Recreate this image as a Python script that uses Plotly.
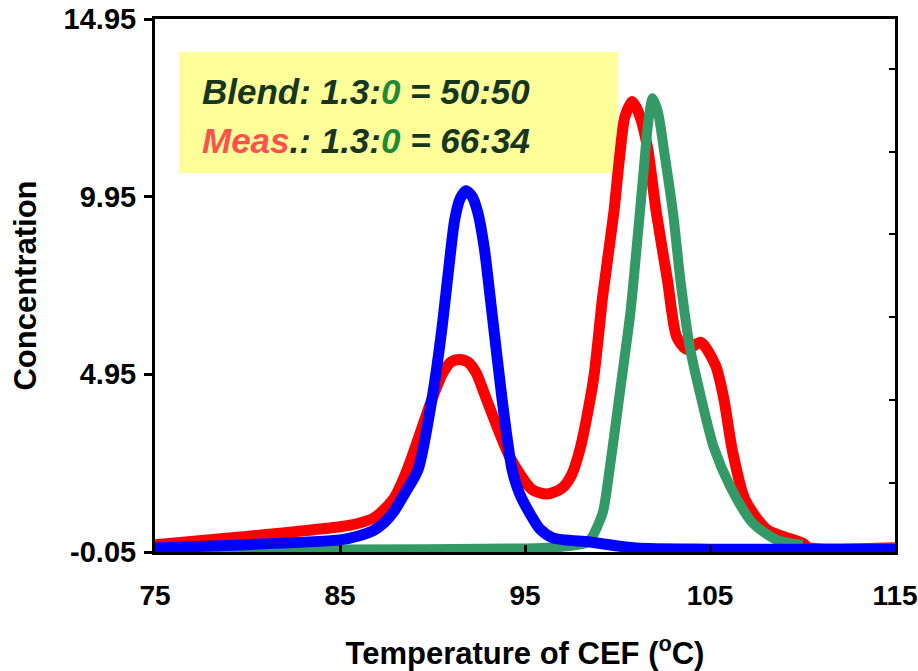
import plotly.graph_objects as go

# ---- data ----
blend_lo_T = [75, 79.6, 85, 86.0, 86.8, 87.4, 87.9, 88.5, 89.22, 89.97, 90.5, 90.85, 91.2, 91.5, 91.81, 92.15, 92.45, 92.8, 93.1, 93.76,
              94.3, 94.7, 95.3, 95.8, 96.5, 98.5, 101, 105, 115]
blend_lo_C = [0.06, 0.15, 0.29, 0.4, 0.55, 0.78, 1.08, 1.6, 2.27, 4.25, 6.2, 7.8, 9.3, 9.9, 10.12, 9.95, 9.5, 8.5, 7.2, 4.25,
              2.27, 1.6, 1.0, 0.6, 0.35, 0.23, 0.06, 0.03, 0.02]

meas_T = [75, 79.6, 85, 86.0, 86.8, 87.3, 87.9, 88.3, 88.8, 89.97, 90.57, 91.0, 91.45, 91.9, 92.35, 92.95, 94.2, 95.4, 96.2, 97.0, 97.5,
          98.0, 98.7, 99.2, 99.8, 100.1, 100.4, 100.8, 101.15, 101.6, 102.1, 102.7, 103.2, 103.75, 104.5,
          105.3, 105.75, 106.2, 106.9, 108.1, 110.0, 110.3, 115]
meas_C = [0.15, 0.37, 0.66, 0.76, 0.9, 1.1, 1.45, 1.85, 2.5, 4.25, 5.0, 5.3, 5.37, 5.3, 5.0, 4.2, 2.6, 1.7, 1.58, 1.75, 2.1,
          2.9, 4.8, 7.15, 9.5, 11.0, 12.2, 12.63, 12.3, 11.4, 9.5, 7.6, 6.0, 5.65, 5.85,
          5.2, 4.25, 2.83, 1.42, 0.57, 0.2, 0.08, 0.07]

blend_hi_T = [75, 85, 95, 97, 98.3, 98.6, 99.2, 99.5, 100.1, 100.7, 101.05, 101.4, 101.65, 101.9, 102.2, 102.5, 103.0,
              103.4, 103.9, 104.5, 105.2, 106.1, 107.3, 108.6, 110]
blend_hi_C = [0.0, 0.02, 0.05, 0.1, 0.2, 0.35, 1.05, 2.0, 4.33, 6.7, 8.6, 10.6, 12.0, 12.72, 12.3, 11.3, 9.5,
              7.6, 5.74, 4.33, 2.9, 1.79, 0.77, 0.29, 0.15]

x_ticks = [75, 85, 95, 105, 115]
y_ticks = [-0.05, 4.95, 9.95, 14.95]
y_labels = ["-0.05", "4.95", "9.95", "14.95"]
y2_ticks = [1.9, 4.23, 6.56, 8.89, 11.22, 13.55]

RED = "#FF0000"
BLUE = "#0000FF"
GREEN = "#339966"
TXT = "#17361F"
ZERO = "#1E8A3A"

FONT = "Liberation Sans, Arial, sans-serif"

fig = go.Figure()
fig.add_trace(go.Scatter(x=meas_T, y=meas_C, mode="lines", line=dict(color=RED, width=11, shape="spline", smoothing=0.7),
                         showlegend=False))
fig.add_trace(go.Scatter(x=blend_hi_T, y=blend_hi_C, mode="lines", line=dict(color=GREEN, width=10, shape="spline", smoothing=0.7),
                         showlegend=False))
fig.add_trace(go.Scatter(x=blend_lo_T, y=blend_lo_C, mode="lines", line=dict(color=BLUE, width=11, shape="spline", smoothing=0.7),
                         showlegend=False))
fig.add_trace(go.Scatter(x=[], y=[], yaxis="y2", showlegend=False))

fig.add_shape(type="rect", xref="paper", yref="paper", x0=0.0325, x1=0.626, y0=0.711, y1=0.938,
              fillcolor="#FFFF99", line=dict(width=0), layer="below")

fig.add_annotation(xref="paper", yref="paper", x=0.061, y=0.864, xanchor="left", yanchor="middle", showarrow=False,
                   text=f"<b><i>Blend: 1.3:<span style='color:{ZERO}'>0</span> = 50:50</i></b>",
                   font=dict(family=FONT, size=35, color=TXT))
fig.add_annotation(xref="paper", yref="paper", x=0.061, y=0.772, xanchor="left", yanchor="middle", showarrow=False,
                   text=f"<b><i><span style='color:#FF5050'>Meas</span>.: 1.3:<span style='color:{ZERO}'>0</span> = 66:34</i></b>",
                   font=dict(family=FONT, size=35, color=TXT))

fig.update_layout(
    width=918, height=671,
    margin=dict(l=155, r=23, t=19, b=119, autoexpand=False),
    paper_bgcolor="white", plot_bgcolor="white",
    xaxis=dict(range=[75, 115], tickvals=x_ticks, ticktext=[str(v) for v in x_ticks], automargin=False,
               ticks="inside", ticklen=7, tickwidth=3, tickcolor="black", ticklabeloverflow="allow",
               showline=True, linewidth=3, linecolor="black", mirror=True,
               showgrid=False, zeroline=False, ticklabelstandoff=16,
               tickfont=dict(family=FONT, size=28, color="black", weight="bold"),
               title=dict(text="Temperature of CEF (<sup>o</sup>C)", standoff=33,
                          font=dict(family=FONT, size=31, color="black", weight="bold"))),
    yaxis=dict(range=[-0.05, 14.95], tickvals=y_ticks, ticktext=y_labels, automargin=False,
               ticks="outside", ticklen=8, tickwidth=3, tickcolor="black",
               showline=True, linewidth=3, linecolor="black",
               showgrid=False, zeroline=False, ticklabelstandoff=2,
               tickfont=dict(family=FONT, size=29, color="black", weight="bold"),
               title=dict(text="Concentration", standoff=18,
                          font=dict(family=FONT, size=31, color="black", weight="bold"))),
    yaxis2=dict(range=[-0.05, 14.95], overlaying="y", side="right", tickvals=y2_ticks, automargin=False,
                showticklabels=False, ticks="inside", ticklen=6, tickwidth=2, tickcolor="black",
                showline=True, linewidth=3, linecolor="black", showgrid=False, zeroline=False),
)

fig.write_html("out.html")
